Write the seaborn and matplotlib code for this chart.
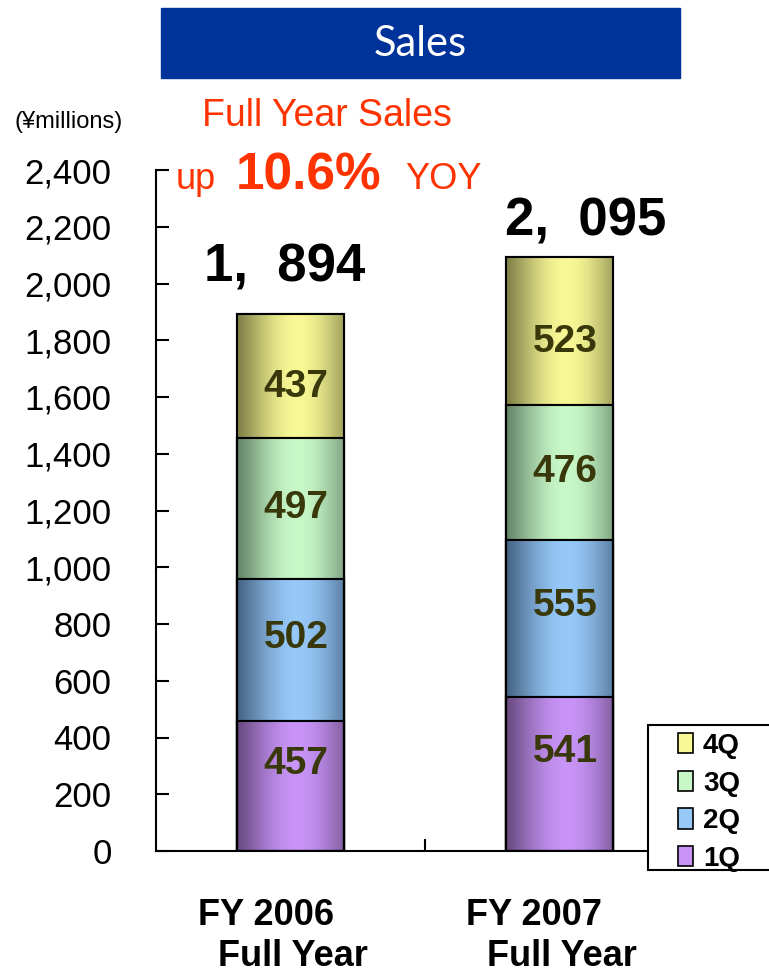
import numpy as np
import pandas as pd
import matplotlib
matplotlib.use("Agg")
import matplotlib.pyplot as plt
import seaborn as sns
from matplotlib.patches import Rectangle, Patch

# ---------------- data ----------------
categories = ["FY 2006", "FY 2007"]
sub_labels = ["Full Year", "Full Year"]
quarters = ["1Q", "2Q", "3Q", "4Q"]
q1 = [457, 541]
q2 = [502, 555]
q3 = [497, 476]
q4 = [437, 523]
totals = [1894, 2095]
yticks = [0, 200, 400, 600, 800, 1000, 1200, 1400, 1600, 1800, 2000, 2200, 2400]

# ---------------- style ----------------
light = {"1Q": (200, 148, 248), "2Q": (150, 200, 248), "3Q": (200, 248, 200), "4Q": (248, 248, 150)}
dark = {"1Q": (105, 75, 128), "2Q": (70, 100, 132), "3Q": (100, 132, 104), "4Q": (128, 128, 72)}
label_dy = {"1Q": 16, "2Q": 9, "3Q": 0, "4Q": -8}      # label offsets (points)
total_off = [(-4, 23), (19, 15)]                        # total label offsets (points)
RED = "#FF3300"
W, H = 769, 973

sns.set_theme(style="white")
plt.rcParams["font.family"] = ["Liberation Sans", "DejaVu Sans"]
for key in ["text.color", "axes.labelcolor", "xtick.color", "ytick.color", "axes.edgecolor"]:
    plt.rcParams[key] = "black"

fig = plt.figure(figsize=(W / 100, H / 100), dpi=100)
fig.patch.set_facecolor("white")

def fx(px):
    return px / W

def fy(py):
    return 1 - py / H

ax = fig.add_axes([fx(156), fy(851), (694 - 156) / W, (851 - 170) / H])
ax.set_facecolor("white")

series = [q1, q2, q3, q4]
cum = np.cumsum(np.array(series), axis=0)
df = pd.DataFrame({
    "category": categories * 4,
    "quarter": [q for q in quarters for _ in categories],
    "value": np.array(series).flatten(),
    "top": cum.flatten(),
})
df["bottom"] = df["top"] - df["value"]


def gradient(qname, n=256):
    t = np.linspace(0, 1, n)
    w = np.clip(1 - np.abs(t - 0.56) / 0.56, 0, 1)
    w = np.sin(w * np.pi / 2) ** 1.2
    c0 = np.array(dark[qname]) / 255
    c1 = np.array(light[qname]) / 255
    img = c0[None, :] + (c1 - c0)[None, :] * w[:, None]
    return img[None, :, :]


outline = []
for k in reversed(range(4)):
    qn = quarters[k]
    sub = df[df["quarter"] == qn]
    z = 2 + (3 - k)
    before = len(ax.patches)
    sns.barplot(data=sub, x="category", y="top", order=categories,
                color=np.array(light[qn]) / 255, saturation=1, edgecolor="black",
                linewidth=1.5, width=0.4, errorbar=None, ax=ax, zorder=z)
    new = ax.patches[before:]
    for p, (_, row) in zip(new, sub.iterrows()):
        x0, wdt = p.get_x(), p.get_width()
        ax.imshow(gradient(qn), extent=(x0, x0 + wdt, row["bottom"], row["top"]),
                  aspect="auto", zorder=z + 0.5, interpolation="bilinear")
        outline.append((x0, wdt, row["top"]))

for x0, wdt, top in outline:
    ax.add_patch(Rectangle((x0, 0), wdt, top, fill=False, ec="black", lw=1.5, zorder=10))

# segment labels
for i, cat in enumerate(categories):
    sub = df[df["category"] == cat]
    for _, row in sub.iterrows():
        ax.annotate(f"{row['value']}", xy=(i, row["bottom"] + row["value"] / 2),
                    xytext=(4, label_dy[row["quarter"]]), textcoords="offset points",
                    ha="center", va="center", fontsize=28, fontweight="bold",
                    color="#38380a", zorder=11)

# totals
for i, t in enumerate(totals):
    ax.annotate(f"{t:,}".replace(",", ",  "), xy=(i, t), xytext=total_off[i],
                textcoords="offset points", ha="center", va="baseline",
                fontsize=38, fontweight="bold", color="black", zorder=11,
                annotation_clip=False)

# category labels
for i, (c, s) in enumerate(zip(categories, sub_labels)):
    ax.annotate(c, xy=(i, 0), xytext=(-18, -53), textcoords="offset points",
                ha="center", va="baseline", fontsize=26, fontweight="bold",
                annotation_clip=False)
    ax.annotate(s, xy=(i, 0), xytext=(2, -83), textcoords="offset points",
                ha="center", va="baseline", fontsize=26, fontweight="bold",
                annotation_clip=False)

ax.set_xlim(-0.5, 1.5)
ax.set_ylim(0, 2400)
ax.set_yticks(yticks)
ax.set_yticklabels([f"{v:,}" for v in yticks], fontsize=25)
ax.set_xticks([0.5])
ax.set_xticklabels([""])
ax.set_xlabel("")
ax.set_ylabel("")
ax.tick_params(axis="y", direction="in", length=9.5, width=1.5, pad=32, colors="black", left=True)
ax.tick_params(axis="x", direction="in", length=8.6, width=1.5, bottom=True)
for side in ["top", "right"]:
    ax.spines[side].set_visible(False)
for side in ["left", "bottom"]:
    ax.spines[side].set_color("black")
    ax.spines[side].set_linewidth(1.5)

# title banner
fig.add_artist(Rectangle((fx(161), fy(78)), (680 - 161) / W, 70 / H,
                         transform=fig.transFigure, color="#003399", zorder=1))
fig.text(fx(420), fy(44), "Sales", ha="center", va="center", color="white",
         fontsize=30, family=["Lato", "DejaVu Sans"], zorder=2)

fig.text(fx(15), fy(122), "(¥millions)", ha="left", va="center", fontsize=17)
fig.text(fx(202), fy(126), "Full Year Sales", ha="left", va="baseline", fontsize=27, color=RED)
fig.text(fx(176), fy(189), "up", ha="left", va="baseline", fontsize=26, color=RED)
fig.text(fx(236), fy(189), "10.6%", ha="left", va="baseline", fontsize=37,
         fontweight="bold", color=RED)
fig.text(fx(405), fy(189), "YOY", ha="left", va="baseline", fontsize=26, color=RED)

# legend
fig.add_artist(Rectangle((fx(648), fy(870)), 140 / W, (870 - 725) / H,
                         transform=fig.transFigure, facecolor="white",
                         edgecolor="black", lw=1.5, zorder=20))
handles = [Patch(facecolor=np.array(light[q]) / 255, edgecolor="black", lw=1.2)
           for q in reversed(quarters)]
leg = fig.legend(handles, list(reversed(quarters)), loc="upper left",
                 bbox_to_anchor=(fx(678), fy(733)), frameon=False,
                 prop={"weight": "bold", "size": 20}, handlelength=0.55,
                 handleheight=0.75, handletextpad=0.35, labelspacing=0.42,
                 borderpad=0, borderaxespad=0)
for txt in leg.get_texts():
    txt.set_color("black")
leg.set_zorder(21)

fig.savefig("out.png", dpi=100, facecolor="white")
